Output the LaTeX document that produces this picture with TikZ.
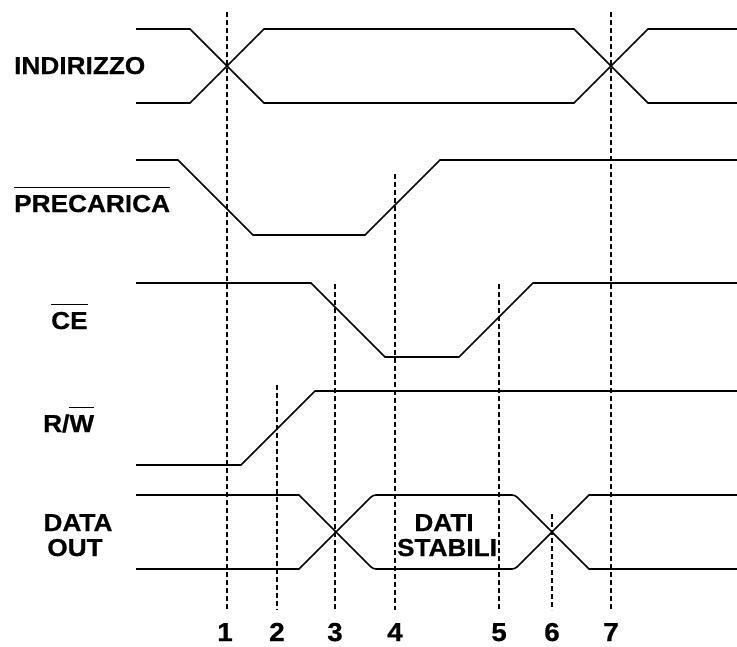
\documentclass[tikz,border=0pt]{standalone}
\usepackage{fontspec}
\setmainfont{Liberation Sans}
\newfontfamily\lblfont[FakeStretch=1.07,FakeBold=0.6]{Liberation Sans Bold}
\newlength\ovw
\newcommand\ovbar[1]{\settowidth{\ovw}{#1}\rlap{\rule[0.97em]{\ovw}{1.5pt}}#1}
\begin{document}
\begin{tikzpicture}[x=1pt,y=-1pt,
  sig/.style={line width=1.6pt,line join=miter},
  guide/.style={line width=1.6pt,dash pattern=on 5pt off 3pt},
  lbl/.style={inner sep=0pt,anchor=base west,font=\fontsize{24.5}{24.5}\selectfont\lblfont},
  num/.style={inner sep=0pt,anchor=base,font=\fontsize{26}{26}\selectfont\lblfont}]
\useasboundingbox (0,0) rectangle (737,646);
% labels
\node[lbl] (ind) at (14,74) {INDIRIZZO};
\node[lbl] (pre) at (14,212) {\ovbar{PRECARICA}};
\node[lbl] (ce) at (51,329) {\ovbar{CE}};
\node[lbl] (rw) at (43,432) {R/\ovbar{W}};
\node[lbl,anchor=base] (data) at (78,531) {DATA};
\node[lbl,anchor=base] (out) at (75,556) {OUT};
\node[lbl,anchor=base] (dati) at (444,531) {DATI};
\node[lbl,anchor=base] (stab) at (447,556) {STABILI};
% guide lines
\draw[guide] (227,12) -- (227,610);
\draw[guide] (277,385) -- (277,610);
\draw[guide] (335,284) -- (335,610);
\draw[guide] (395,174) -- (395,610);
\draw[guide] (499,284) -- (499,610);
\draw[guide] (552,514) -- (552,610);
\draw[guide] (611,12) -- (611,610);
% numbers
\node[num] (n1) at (225,641) {1};
\node[num] (n2) at (277,641) {2};
\node[num] (n3) at (335,641) {3};
\node[num] (n4) at (395,641) {4};
\node[num] (n5) at (499,641) {5};
\node[num] (n6) at (552,641) {6};
\node[num] (n7) at (611,641) {7};
% INDIRIZZO
\draw[sig] (136,29) -- (190,29) -- (264,103) -- (574,103) -- (648,29) -- (737,29);
\draw[sig] (136,103) -- (190,103) -- (264,29) -- (574,29) -- (648,103) -- (737,103);
% PRECARICA
\draw[sig] (136,160) -- (178,160) -- (253,235) -- (365,235) -- (440,160) -- (737,160);
% CE
\draw[sig] (136,283) -- (311,283) -- (385,357) -- (459,357) -- (533,283) -- (737,283);
% R/W
\draw[sig] (136,465) -- (241,465) -- (315,391) -- (737,391);
% DATA OUT
\draw[sig] (136,495) -- (299,495) [rounded corners=3pt] -- (373,569) -- (515,569) [sharp corners] -- (589,495) -- (737,495);
\draw[sig] (136,569) -- (299,569) [rounded corners=3pt] -- (373,495) -- (515,495) [sharp corners] -- (589,569) -- (737,569);
\end{tikzpicture}
\end{document}
